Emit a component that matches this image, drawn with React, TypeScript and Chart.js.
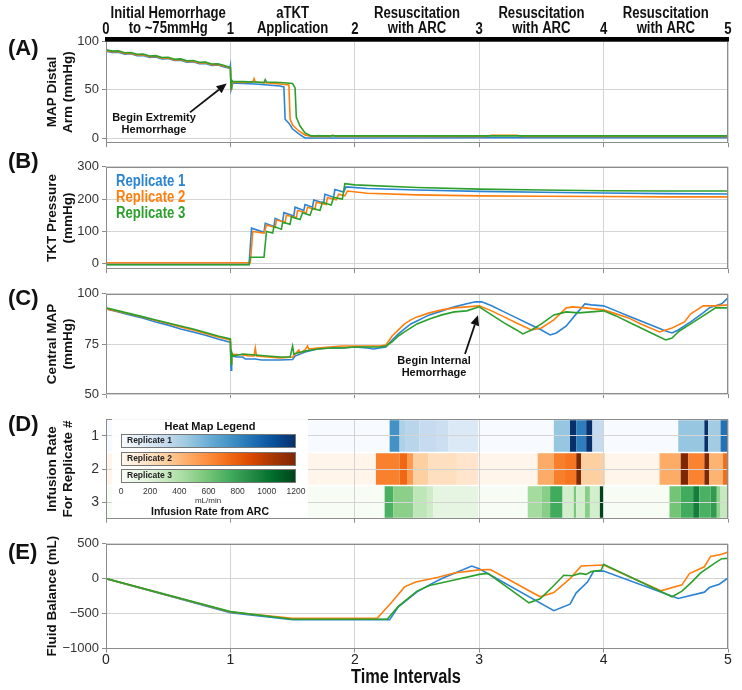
import React, { useEffect, useRef } from 'react';
import { Chart, registerables } from 'chart.js';

Chart.register(...registerables);

// ---------------- data ----------------
const timeTicks = [0, 1, 2, 3, 4, 5];
const phaseLabels: string[][] = [
  ['Initial Hemorrhage', 'to ~75mmHg'],
  ['aTKT', 'Application'],
  ['Resuscitation', 'with ARC'],
  ['Resuscitation', 'with ARC'],
  ['Resuscitation', 'with ARC'],
];
const replicateNames = ['Replicate 1', 'Replicate 2', 'Replicate 3'];
const rowLabels = ['1', '2', '3'];

// (A) MAP distal arm, mmHg
const mapDistalTicks = [0, 50, 100];
const mapDistalRep1: number[][] = [
  [0, 89.5], [0.05, 88.3], [0.1, 88.6], [0.15, 86.6], [0.2, 86.9], [0.25, 85.0], [0.3, 85.3], [0.35, 83.3],
  [0.4, 83.6], [0.45, 81.7], [0.5, 82.0], [0.55, 80.0], [0.6, 80.3], [0.65, 78.4], [0.7, 78.7], [0.75, 76.8],
  [0.8, 77.0], [0.85, 75.1], [0.9, 75.4], [0.95, 73.5], [0.995, 72.0], [1.0, 75], [1.005, 50], [1.02, 57],
  [1.1, 56.5], [1.2, 56], [1.3, 55], [1.4, 54], [1.43, 53], [1.44, 20], [1.47, 16], [1.5, 10], [1.55, 5],
  [1.6, 0.8], [2.0, 0.8], [3.0, 1], [4.0, 1], [5.0, 1],
];
const mapDistalRep2: number[][] = [
  [0, 90.2], [0.05, 89.0], [0.1, 89.3], [0.15, 87.3], [0.2, 87.6], [0.25, 85.7], [0.3, 86.0], [0.35, 84.0],
  [0.4, 84.3], [0.45, 82.4], [0.5, 82.7], [0.55, 80.7], [0.6, 81.0], [0.65, 79.1], [0.7, 79.4], [0.75, 77.5],
  [0.8, 77.7], [0.85, 75.8], [0.9, 76.1], [0.95, 74.2], [0.995, 72.8], [1.0, 72.5], [1.005, 52], [1.02, 58],
  [1.1, 57.5], [1.18, 58], [1.19, 61.5], [1.2, 58], [1.3, 57], [1.4, 56], [1.47, 55], [1.48, 20], [1.5, 14],
  [1.55, 8], [1.6, 4], [1.65, 2.5], [1.8, 2.5], [1.82, 3.8], [1.85, 2.5], [3.05, 2.5], [3.1, 3.5], [3.3, 3.5],
  [3.35, 2.5], [5.0, 2.5],
];
const mapDistalRep3: number[][] = [
  [0, 91], [0.05, 89.7], [0.1, 90.0], [0.15, 88.0], [0.2, 88.3], [0.25, 86.4], [0.3, 86.7], [0.35, 84.7],
  [0.4, 85.0], [0.45, 83.1], [0.5, 83.4], [0.55, 81.4], [0.6, 81.7], [0.65, 79.8], [0.7, 80.1], [0.75, 78.2],
  [0.8, 78.4], [0.85, 76.5], [0.9, 76.8], [0.95, 74.9], [0.995, 73.2], [1.0, 72.5], [1.005, 51], [1.01, 60],
  [1.02, 58.5], [1.1, 58.5], [1.2, 58], [1.27, 57.5], [1.28, 60.5], [1.29, 58], [1.4, 57.5], [1.5, 56.5],
  [1.52, 52], [1.53, 22], [1.56, 13], [1.6, 6], [1.65, 3], [5.0, 3],
];

// (B) TKT pressure, mmHg
const tktTicks = [0, 100, 200, 300];
const tktRep1: number[][] = [
  [0, -2], [1.15, -2], [1.17, 110], [1.27, 97], [1.28, 125], [1.35, 115], [1.36, 140], [1.42, 130], [1.43, 158],
  [1.51, 148], [1.52, 175], [1.59, 165], [1.6, 183], [1.66, 175], [1.67, 197], [1.75, 188], [1.76, 215],
  [1.83, 206], [1.84, 230], [1.91, 222], [1.93, 238], [2.1, 233], [2.5, 228], [3, 224], [3.5, 221], [4, 219],
  [4.5, 217], [5, 216],
];
const tktRep2: number[][] = [
  [0, 3], [1.16, 3], [1.18, 100], [1.27, 95], [1.29, 120], [1.36, 112], [1.37, 135], [1.44, 128], [1.45, 150],
  [1.53, 143], [1.54, 165], [1.61, 158], [1.62, 175], [1.68, 168], [1.69, 190], [1.77, 183], [1.78, 205],
  [1.85, 198], [1.87, 215], [1.92, 210], [1.94, 225], [2.1, 218], [2.5, 213], [3, 210], [3.5, 209], [4, 208],
  [4.5, 207], [5, 207],
];
const tktRep3: number[][] = [
  [0, -3], [1.15, -3], [1.16, 20], [1.27, 20], [1.29, 100], [1.34, 95], [1.35, 115], [1.41, 107], [1.42, 128],
  [1.48, 122], [1.49, 145], [1.56, 137], [1.58, 158], [1.64, 150], [1.66, 172], [1.72, 165], [1.74, 190],
  [1.81, 182], [1.83, 205], [1.9, 200], [1.92, 248], [2.0, 244], [2.5, 236], [3, 231], [3.5, 228], [4, 226],
  [4.5, 225], [5, 225],
];

// (C) Central MAP, mmHg
const centralTicks = [50, 75, 100];
const centralRep1: number[][] = [
  [0, 92.5], [0.1, 91], [0.2, 89.3], [0.3, 87.8], [0.4, 86], [0.5, 84.4], [0.6, 82.5], [0.7, 81], [0.8, 79.4],
  [0.9, 77.5], [0.99, 76], [1.0, 75.5], [1.005, 62], [1.01, 69], [1.05, 68.5], [1.1, 68.5], [1.12, 67.5],
  [1.2, 67.5], [1.25, 67], [1.3, 67], [1.4, 67], [1.5, 67.3], [1.52, 69], [1.6, 71], [1.7, 72.5], [1.8, 73],
  [1.9, 73], [2.0, 73.5], [2.1, 73], [2.15, 72.5], [2.2, 73], [2.25, 73.5], [2.3, 77], [2.35, 80], [2.4, 82.5],
  [2.45, 85], [2.5, 86.5], [2.55, 88], [2.6, 89.5], [2.7, 91.5], [2.8, 93.5], [2.9, 95], [2.97, 96], [3.02, 96],
  [3.1, 94], [3.2, 91], [3.3, 88], [3.4, 85], [3.5, 82], [3.57, 79.5], [3.62, 80.5], [3.7, 84], [3.78, 90],
  [3.85, 95], [3.9, 94.5], [4.0, 94], [4.1, 91.5], [4.2, 89], [4.3, 86.5], [4.4, 84], [4.5, 81.5], [4.55, 80.5],
  [4.6, 82], [4.7, 86], [4.8, 90.5], [4.85, 93], [4.9, 94], [4.95, 95], [5.0, 98],
];
const centralRep2: number[][] = [
  [0, 92.5], [0.1, 91.2], [0.2, 89.8], [0.3, 88.3], [0.4, 86.7], [0.5, 85.2], [0.6, 83.5], [0.7, 82], [0.8, 80.3],
  [0.9, 78.5], [1.0, 77], [1.005, 66], [1.01, 70], [1.1, 69.5], [1.15, 69], [1.19, 69], [1.2, 73], [1.21, 69],
  [1.3, 68.5], [1.4, 68], [1.5, 68.5], [1.55, 72], [1.56, 70.5], [1.6, 72], [1.62, 74], [1.63, 72.5], [1.7, 73],
  [1.8, 73.5], [1.9, 74], [2.0, 74], [2.1, 74], [2.2, 74], [2.25, 74.5], [2.3, 79], [2.35, 82], [2.4, 85],
  [2.45, 87], [2.5, 88.5], [2.6, 90.5], [2.7, 92], [2.8, 93], [2.9, 93.5], [3.0, 94], [3.1, 91.5], [3.2, 88.5],
  [3.3, 85.5], [3.42, 82], [3.5, 83], [3.6, 87], [3.7, 93], [3.75, 93.5], [3.85, 93], [4.0, 92], [4.1, 90],
  [4.2, 88], [4.3, 85], [4.45, 81], [4.55, 83], [4.65, 86], [4.7, 90], [4.75, 92], [4.8, 94], [4.9, 94],
  [5.0, 94.5],
];
const centralRep3: number[][] = [
  [0, 93], [0.1, 91.5], [0.2, 90], [0.3, 88.5], [0.4, 87], [0.5, 85.5], [0.6, 84], [0.7, 82.5], [0.8, 80.7],
  [0.9, 79], [1.0, 77.5], [1.005, 65], [1.01, 71], [1.02, 69], [1.1, 70], [1.2, 69.5], [1.3, 69], [1.4, 68.5],
  [1.48, 68.5], [1.5, 74], [1.51, 70], [1.6, 71.5], [1.7, 72.5], [1.8, 73], [1.9, 73], [2.0, 73.5], [2.1, 73.5],
  [2.2, 73.5], [2.25, 74], [2.3, 76], [2.35, 79], [2.4, 81], [2.45, 83], [2.5, 85], [2.6, 87.5], [2.7, 89.5],
  [2.8, 91], [2.9, 91.5], [3.0, 93.5], [3.1, 89.5], [3.2, 85.5], [3.3, 82], [3.35, 80], [3.42, 82], [3.5, 85],
  [3.6, 89.5], [3.7, 91], [3.8, 90.5], [3.9, 91], [4.0, 91.5], [4.1, 89], [4.2, 86], [4.3, 83], [4.4, 80],
  [4.5, 77], [4.55, 78], [4.6, 81], [4.7, 85], [4.8, 89], [4.9, 93], [5.0, 93],
];

// (D) ARC infusion rate: [start, end, mL/min]
const rateMax = 1200;
const rateTicks = [0, 200, 400, 600, 800, 1000, 1200];
const infusionRep1: number[][] = [
  [0, 5, 0], [2.28, 2.36, 750], [2.36, 2.41, 390], [2.41, 2.52, 350], [2.52, 2.66, 300], [2.66, 2.75, 260],
  [2.75, 2.99, 170], [3.6, 3.73, 470], [3.73, 3.78, 1200], [3.78, 3.86, 840], [3.86, 3.91, 1200], [3.91, 4.0, 300],
  [4.6, 4.81, 470], [4.81, 4.84, 1200], [4.84, 4.94, 430], [4.94, 5.0, 900],
];
const infusionRep2: number[][] = [
  [0, 5, 0], [2.17, 2.36, 650], [2.36, 2.42, 760], [2.42, 2.47, 540], [2.47, 2.59, 300], [2.59, 2.82, 200],
  [2.82, 2.99, 160], [3.47, 3.6, 460], [3.6, 3.69, 660], [3.69, 3.78, 700], [3.78, 3.82, 1200], [3.82, 4.01, 300],
  [4.45, 4.62, 460], [4.62, 4.68, 1200], [4.68, 4.81, 640], [4.81, 4.85, 1200], [4.85, 4.96, 430], [4.96, 5.0, 730],
];
const infusionRep3: number[][] = [
  [0, 5, 0], [2.24, 2.31, 720], [2.31, 2.47, 520], [2.47, 2.58, 330], [2.58, 2.63, 260], [2.63, 2.99, 145],
  [3.39, 3.5, 430], [3.5, 3.57, 530], [3.57, 3.67, 750], [3.67, 3.76, 240], [3.76, 3.78, 580], [3.78, 3.85, 240],
  [3.85, 3.89, 530], [3.89, 3.97, 240], [3.97, 4.0, 1200], [4.53, 4.62, 600], [4.62, 4.72, 750], [4.72, 4.77, 970],
  [4.77, 4.86, 720], [4.86, 4.91, 830], [4.91, 4.94, 500], [4.94, 5.0, 300],
];

// (E) Fluid balance, mL
const fluidTicks = [-1000, -500, 0, 500];
const fluidRep1: number[][] = [
  [0, 0], [1, -490], [1.5, -590], [2.28, -590], [2.35, -405], [2.5, -190], [2.6, -90], [2.7, 0], [2.94, 180],
  [3.0, 140], [3.6, -462], [3.73, -367], [3.78, -205], [3.87, -50], [3.92, 105], [4.0, 110], [4.6, -286],
  [4.81, -195], [4.85, -129], [4.93, -81], [5.0, 10],
];
const fluidRep2: number[][] = [
  [0, 0], [1, -480], [1.5, -570], [2.18, -570], [2.3, -333], [2.4, -119], [2.49, -50], [2.67, 20], [2.8, 80],
  [3.0, 125], [3.09, 130], [3.49, -262], [3.6, -200], [3.73, 0], [3.82, 181], [4.0, 195], [4.46, -176],
  [4.63, -90], [4.69, 71], [4.81, 170], [4.86, 319], [4.95, 350], [5.0, 381],
];
const fluidRep3: number[][] = [
  [0, 0], [1, -475], [1.5, -585], [2.26, -585], [2.35, -400], [2.5, -180], [2.6, -100], [2.8, -20], [3.0, 60],
  [3.07, 75], [3.4, -348], [3.49, -290], [3.6, -100], [3.68, 48], [3.75, 40], [3.81, 75], [3.86, 60], [3.9, 100],
  [3.98, 120], [4.0, 205], [4.55, -262], [4.63, -180], [4.71, -48], [4.78, 81], [4.9, 230], [4.95, 286], [5.0, 290],
];

// annotations (data coordinates)
const extremityNote = { tail: [0.675, 27], tip: [0.97, 56.5], textAt: [0.386, 21.3], lines: ['Begin Extremity', 'Hemorrhage'] };
const internalNote = { tail: [2.886, 70], tip: [2.99, 89.3], textAt: [2.637, 66.7], lines: ['Begin Internal', 'Hemorrhage'] };

// ---------------- styles ----------------
const SANS = "'Liberation Sans', Arial, sans-serif";
const BLUE = '#2b83d3';
const ORANGE = '#ff7f0e';
const GREEN = '#2ca02c';
const GRID = '#d4d4d4';
const AXIS = '#8c8c8c';
const CANVAS_W = 742;
const PLOT_LEFT = 106;
const PLOT_RIGHT = 728;
const PAD_LEFT = 44;
const NARROW_SCALE = 0.82;

const blues = ['#f7fbff', '#deebf7', '#c6dbef', '#9ecae1', '#6baed6', '#4292c6', '#2171b5', '#08519c', '#08306b'];
const oranges = ['#fff5eb', '#fee6ce', '#fdd0a2', '#fdae6b', '#fd8d3c', '#f16913', '#d94801', '#a63603', '#7f2704'];
const greens = ['#f7fcf5', '#e5f5e0', '#c7e9c0', '#a1d99b', '#74c476', '#41ab5d', '#238b45', '#006d2c', '#00441b'];

function hexRgb(h: string) {
  return [parseInt(h.slice(1, 3), 16), parseInt(h.slice(3, 5), 16), parseInt(h.slice(5, 7), 16)];
}
function colorAt(stops: string[], t: number) {
  const c = Math.max(0, Math.min(1, t)) * (stops.length - 1);
  const i = Math.min(Math.floor(c), stops.length - 2);
  const f = c - i;
  const a = hexRgb(stops[i]);
  const b = hexRgb(stops[i + 1]);
  return `rgb(${Math.round(a[0] + (b[0] - a[0]) * f)},${Math.round(a[1] + (b[1] - a[1]) * f)},${Math.round(a[2] + (b[2] - a[2]) * f)})`;
}

const toXY = (pts: number[][]) => pts.map(([x, y]) => ({ x, y }));
const lineDs = (pts: number[][], color: string, order: number) => ({
  data: toXY(pts), borderColor: color, backgroundColor: color, borderWidth: 1.6, pointRadius: 0, tension: 0, order,
});

function narrowText(ctx: any, s: string, x: number, y: number) {
  ctx.save();
  ctx.translate(x, y);
  ctx.scale(NARROW_SCALE, 1);
  ctx.fillText(s, 0, 0);
  ctx.restore();
}

function decorPlugin(opts: any) {
  return {
    id: 'decor',
    afterDraw(chart: any) {
      const { ctx, chartArea: a, scales } = chart;
      ctx.save();
      ctx.strokeStyle = AXIS;
      ctx.lineWidth = 1;
      const l = Math.round(a.left) + 0.5, t = Math.round(a.top) + 0.5;
      const r = Math.round(a.right) - 0.5, b = Math.round(a.bottom) - 0.5;
      ctx.strokeRect(l, t, r - l, b - t);
      if (opts.topBar) {
        ctx.fillStyle = '#000';
        ctx.fillRect(a.left - 1, a.top - 4, a.right - a.left + 2, 4.5);
        ctx.fillStyle = '#111';
        ctx.font = `bold 16px ${SANS}`;
        ctx.textAlign = 'center';
        ctx.textBaseline = 'middle';
        timeTicks.forEach((v) => narrowText(ctx, String(v), scales.x.getPixelForValue(v), 30));
      }
      if (opts.phases) {
        ctx.fillStyle = '#111';
        ctx.font = `bold 16px ${SANS}`;
        ctx.textAlign = 'center';
        ctx.textBaseline = 'middle';
        phaseLabels.forEach((lines, i) => {
          const x = scales.x.getPixelForValue(i + 0.5);
          narrowText(ctx, lines[0], x, 14);
          narrowText(ctx, lines[1], x, 29);
        });
      }
      (opts.notes || []).forEach((n: any) => {
        const px = (p: number[]) => [scales.x.getPixelForValue(p[0]), scales.y.getPixelForValue(p[1])];
        const [x1, y1] = px(n.tail);
        const [x2, y2] = px(n.tip);
        const ang = Math.atan2(y2 - y1, x2 - x1);
        const hl = 10, hw = 4.5;
        const bx = x2 - hl * Math.cos(ang), by = y2 - hl * Math.sin(ang);
        ctx.strokeStyle = '#111';
        ctx.fillStyle = '#111';
        ctx.lineWidth = 1.8;
        ctx.beginPath(); ctx.moveTo(x1, y1); ctx.lineTo(bx, by); ctx.stroke();
        ctx.beginPath();
        ctx.moveTo(x2, y2);
        ctx.lineTo(bx + hw * Math.sin(ang), by - hw * Math.cos(ang));
        ctx.lineTo(bx - hw * Math.sin(ang), by + hw * Math.cos(ang));
        ctx.closePath(); ctx.fill();
        const [tx, ty] = px(n.textAt);
        ctx.font = `bold 11px ${SANS}`;
        ctx.textAlign = 'center';
        ctx.textBaseline = 'middle';
        n.lines.forEach((s: string, i: number) => ctx.fillText(s, tx, ty + i * 12.5));
      });
      ctx.restore();
    },
  };
}

const minusFmt = (v: any) => (Number(v) < 0 ? '\u2212' + Math.abs(Number(v)) : String(v));

const titleFont = { family: SANS, size: 13.5, weight: 'bold', lineHeight: '16px' };

function yAxis(min: number, max: number, ticks: number[], title: any, fmt?: any) {
  return {
    type: 'linear', min, max,
    afterBuildTicks: (s: any) => { s.ticks = ticks.map((v) => ({ value: v })); },
    afterFit: (s: any) => { s.width = PLOT_LEFT - PAD_LEFT; },
    grid: { color: GRID, tickColor: AXIS, tickLength: 4 },
    border: { display: false },
    ticks: { color: '#333', font: { family: SANS, size: 13 }, padding: 3, ...(fmt ? { callback: fmt } : {}) },
    title: { display: true, text: title, color: '#111', font: titleFont, padding: 0 },
  };
}
function xAxis(labels: boolean, extra: any = {}) {
  return {
    type: 'linear', min: 0, max: 5,
    afterBuildTicks: (s: any) => { s.ticks = timeTicks.map((v) => ({ value: v })); },
    afterFit: (s: any) => { s.height = labels ? 41.5 : 8; },
    grid: { color: GRID, tickColor: AXIS, tickLength: 4, ...(extra.grid || {}) },
    border: { display: false },
    ticks: { display: labels, color: '#222', font: { family: SANS, size: 14 }, padding: -1 },
  };
}

function lineChart(canvas: HTMLCanvasElement, o: any) {
  const scales: any = { x: xAxis(o.xLabels), y: yAxis(o.yMin, o.yMax, o.yTicks, o.yTitle, o.yFmt) };
  return new Chart(canvas, {
    type: 'line',
    data: { datasets: o.datasets },
    options: {
      responsive: false, animation: false, events: [],
      layout: { padding: { left: PAD_LEFT, right: CANVAS_W - PLOT_RIGHT, top: o.padTop, bottom: 0 } },
      plugins: { legend: { display: false }, tooltip: { enabled: false } },
      scales,
    } as any,
    plugins: [decorPlugin(o.decor || {})],
  } as any);
}

function heatChart(canvas: HTMLCanvasElement) {
  const maps = [blues, oranges, greens];
  const datasets = [infusionRep1, infusionRep2, infusionRep3].map((segs, i) => ({
    data: segs.map(([s, e]) => ({ x: [s, e], y: rowLabels[i] })),
    backgroundColor: segs.map((seg) => colorAt(maps[i], seg[2] / rateMax)),
    borderWidth: 0,
    grouped: false,
    barPercentage: 0.95,
    categoryPercentage: 1,
  }));
  return new Chart(canvas, {
    type: 'bar',
    data: { labels: rowLabels, datasets },
    options: {
      indexAxis: 'y', responsive: false, animation: false, events: [],
      layout: { padding: { left: PAD_LEFT, right: CANVAS_W - PLOT_RIGHT, top: 10, bottom: 0 } },
      plugins: { legend: { display: false }, tooltip: { enabled: false } },
      scales: {
        x: xAxis(false, { grid: { z: 1 } }),
        y: {
          type: 'category', labels: rowLabels, offset: true,
          afterFit: (s: any) => { s.width = PLOT_LEFT - PAD_LEFT; },
          grid: { offset: false, color: GRID, tickColor: AXIS, tickLength: 4, z: 1 },
          border: { display: false },
          ticks: { color: '#333', font: { family: SANS, size: 14 }, padding: 3 },
          title: { display: true, text: ['Infusion Rate', 'For Replicate #'], color: '#111', font: titleFont, padding: 0 },
        },
      },
    } as any,
    plugins: [decorPlugin({})],
  } as any);
}

const panelLabel = (text: string, centerY: number) => (
  <div key={text} style={{ position: 'absolute', left: 8, top: centerY - 12, height: 24, lineHeight: '24px', font: `bold 22px ${SANS}`, color: '#111' }}>{text}</div>
);

const gradient = (stops: string[]) => `linear-gradient(to right, ${stops.join(', ')})`;
const narrowStyle = (origin: string) => ({ transform: `scaleX(${NARROW_SCALE})`, transformOrigin: origin, whiteSpace: 'nowrap' as const });

export default function App() {
  const refA = useRef<HTMLCanvasElement>(null);
  const refB = useRef<HTMLCanvasElement>(null);
  const refC = useRef<HTMLCanvasElement>(null);
  const refD = useRef<HTMLCanvasElement>(null);
  const refE = useRef<HTMLCanvasElement>(null);

  useEffect(() => {
    const charts = [
      lineChart(refA.current!, {
        datasets: [lineDs(mapDistalRep1, BLUE, 3), lineDs(mapDistalRep2, ORANGE, 2), lineDs(mapDistalRep3, GREEN, 1)],
        yMin: -4.5, yMax: 100, yTicks: mapDistalTicks, yTitle: ['MAP Distal', 'Arm (mmHg)'],
        xLabels: false, padTop: 41,
        decor: { topBar: true, phases: true, notes: [extremityNote] },
      }),
      lineChart(refB.current!, {
        datasets: [lineDs(tktRep1, BLUE, 3), lineDs(tktRep2, ORANGE, 2), lineDs(tktRep3, GREEN, 1)],
        yMin: -17, yMax: 300, yTicks: tktTicks, yTitle: ['TKT Pressure', '(mmHg)'],
        xLabels: false, padTop: 10,
      }),
      lineChart(refC.current!, {
        datasets: [lineDs(centralRep1, BLUE, 3), lineDs(centralRep2, ORANGE, 2), lineDs(centralRep3, GREEN, 1)],
        yMin: 50, yMax: 100, yTicks: centralTicks, yTitle: ['Central MAP', '(mmHg)'],
        xLabels: false, padTop: 10,
        decor: { notes: [internalNote] },
      }),
      heatChart(refD.current!),
      lineChart(refE.current!, {
        datasets: [lineDs(fluidRep1, BLUE, 3), lineDs(fluidRep2, ORANGE, 2), lineDs(fluidRep3, GREEN, 1)],
        yMin: -1005, yMax: 500, yTicks: fluidTicks, yTitle: 'Fluid Balance (mL)', yFmt: minusFmt,
        xLabels: true, padTop: 10,
      }),
    ];
    return () => charts.forEach((c) => c.destroy());
  }, []);

  const cv = (ref: any, top: number, height: number) => (
    <canvas ref={ref} width={CANVAS_W} height={height} style={{ position: 'absolute', left: 0, top, display: 'block' }} />
  );

  const barTops = [434, 452, 469];
  const legendMaps = [blues, oranges, greens];
  const repColors = [BLUE, ORANGE, GREEN];

  return (
    <div style={{ position: 'absolute', left: 0, top: 0, width: 742, height: 690, background: '#fff', overflow: 'hidden' }}>
      {cv(refA, 0, 154)}
      {cv(refB, 156, 124)}
      {cv(refC, 283, 122)}
      {cv(refD, 408, 122)}
      {cv(refE, 533, 157)}

      {panelLabel('(A)', 47)}
      {panelLabel('(B)', 160)}
      {panelLabel('(C)', 297)}
      {panelLabel('(D)', 423)}
      {panelLabel('(E)', 551)}

      {replicateNames.map((n, i) => (
        <div key={n} style={{ position: 'absolute', left: 116, top: 172 + i * 16, lineHeight: '16px', font: `bold 16px ${SANS}`, color: repColors[i], ...narrowStyle('left center') }}>{n}</div>
      ))}

      {/* heat map legend */}
      <div style={{ position: 'absolute', left: 112, top: 419, width: 196, height: 98, background: 'rgba(255,255,255,0.92)' }} />
      <div style={{ position: 'absolute', left: 112, top: 420, width: 196, textAlign: 'center', lineHeight: '13px', font: `bold 11px ${SANS}`, color: '#111' }}>Heat Map Legend</div>
      {legendMaps.map((m, i) => (
        <div key={i} style={{ position: 'absolute', left: 121, top: barTops[i], width: 175, height: 14, boxSizing: 'border-box', border: '1px solid #777', background: gradient(m) }}>
          <span style={{ position: 'absolute', left: 5, top: 0, lineHeight: '12px', font: `bold 8.5px ${SANS}`, color: '#222' }}>{replicateNames[i]}</span>
        </div>
      ))}
      {rateTicks.map((v) => (
        <div key={v} style={{ position: 'absolute', left: 121 + (v / rateMax) * 175 - 20, top: 486, width: 40, textAlign: 'center', lineHeight: '10px', font: `8.5px ${SANS}`, color: '#333' }}>{v}</div>
      ))}
      <div style={{ position: 'absolute', left: 158, top: 496, width: 100, textAlign: 'center', lineHeight: '9px', font: `8px ${SANS}`, color: '#333' }}>mL/min</div>
      <div style={{ position: 'absolute', left: 112, top: 505, width: 196, textAlign: 'center', lineHeight: '12px', font: `bold 10.5px ${SANS}`, color: '#111' }}>Infusion Rate from ARC</div>

      <div style={{ position: 'absolute', left: 256, top: 665, width: 300, textAlign: 'center', lineHeight: '22px', font: `bold 20px ${SANS}`, color: '#111', ...narrowStyle('center center') }}>Time Intervals</div>
    </div>
  );
}
